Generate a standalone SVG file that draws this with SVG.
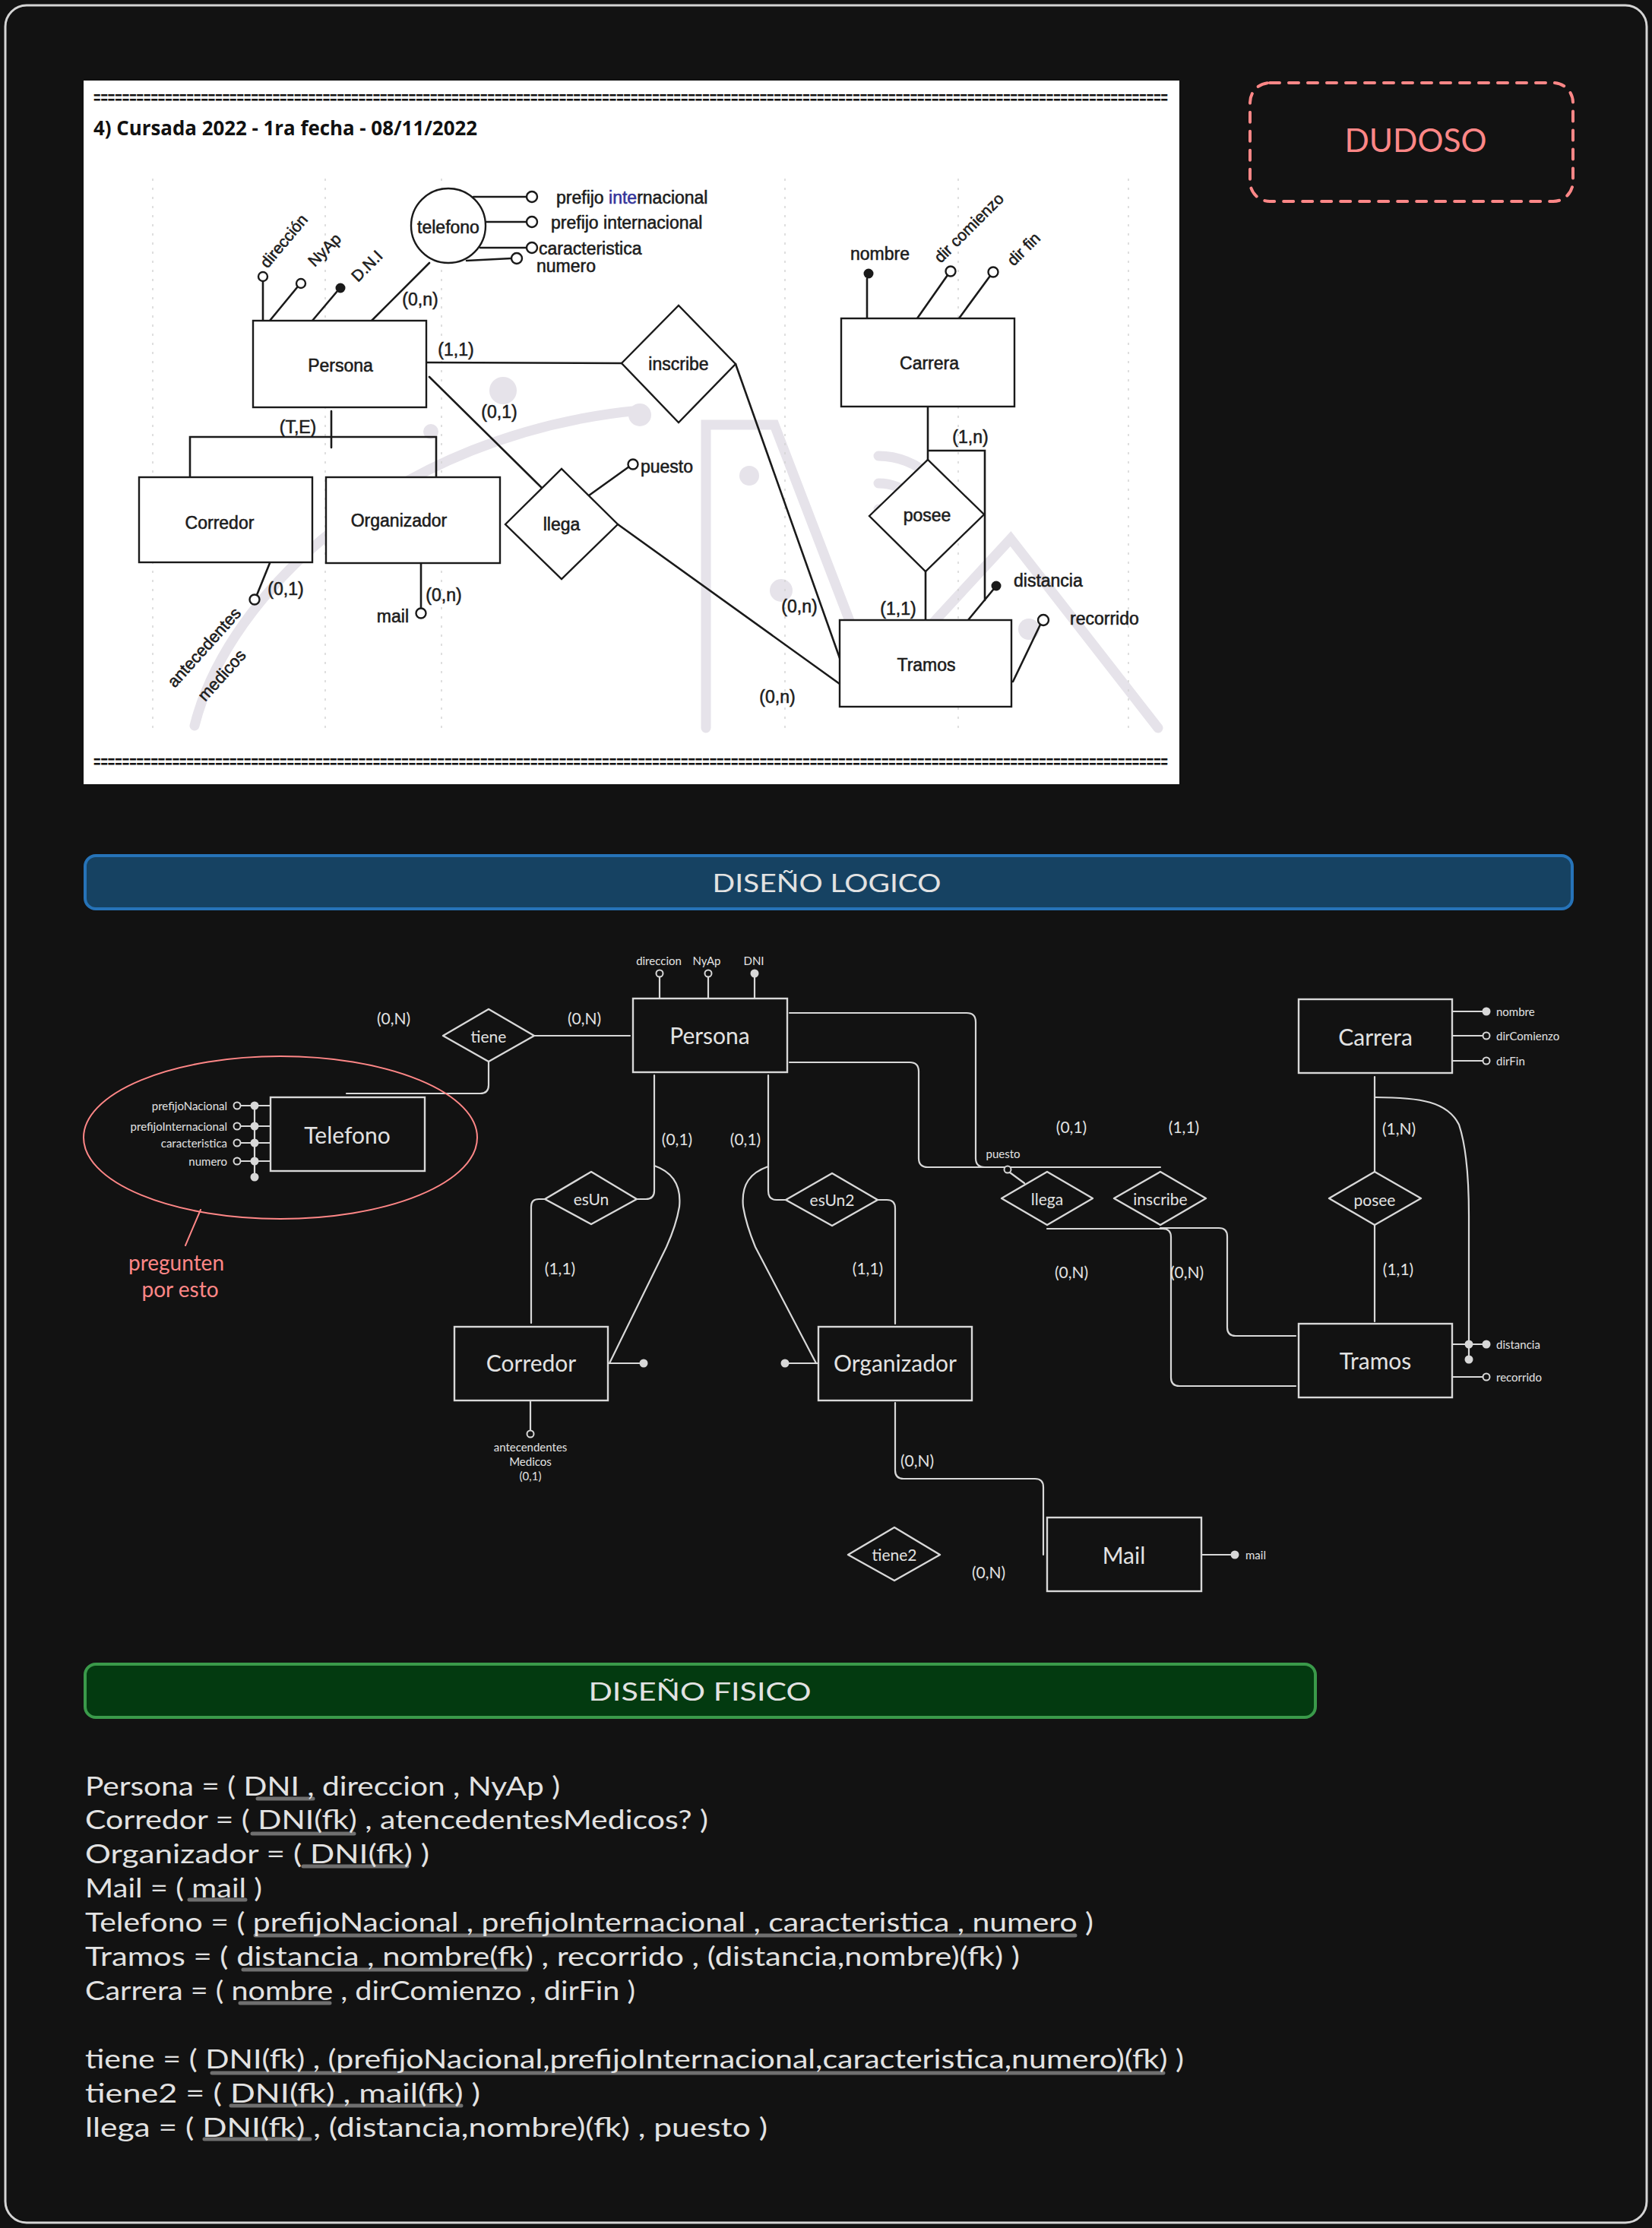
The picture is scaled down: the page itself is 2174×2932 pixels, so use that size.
<svg xmlns="http://www.w3.org/2000/svg" width="2174" height="2932" viewBox="0 0 2174 2932">
  <style>
    .st{font-family:"Liberation Sans",Arial,sans-serif;fill:#1c1c1c;font-size:23px;stroke:#1c1c1c;stroke-width:0.55}
    .sl{fill:none;stroke:#1a1a1a;stroke-width:2.6;stroke-linecap:round}
    .sc{fill:#fff;stroke:#1a1a1a;stroke-width:2.4}
    .sf{fill:#1a1a1a}
    .wm{fill:none;stroke:#e6e3ea;stroke-width:13;stroke-linecap:round}
    .wd{fill:#e6e3ea}
    .grid{fill:none;stroke:#d2d2d2;stroke-width:1.4;stroke-dasharray:3 9}
    .hw{font-family:"Lato","Noto Sans",sans-serif;fill:#e2e2e2}
    .ent{fill:none;stroke:#d8d8d8;stroke-width:2.4}
    .dia{fill:none;stroke:#d8d8d8;stroke-width:2.4;stroke-linejoin:round}
    .ln{fill:none;stroke:#d8d8d8;stroke-width:2.2;stroke-linecap:round}
    .oc{fill:#121212;stroke:#d8d8d8;stroke-width:2}
    .fc{fill:#d8d8d8}
    .lbl{font-size:30px;text-anchor:middle;dominant-baseline:central}
    .rel{font-size:21px;text-anchor:middle;dominant-baseline:central}
    .card{font-size:21px;text-anchor:middle;dominant-baseline:central}
    .att{font-size:15px;dominant-baseline:central}
    .phys{font-size:34px}
    .ul{fill:none;stroke:#6f6f6f;stroke-width:5;stroke-linecap:round}
    .red{fill:#ff8787;font-family:"Lato","Noto Sans",sans-serif}
  </style>

  <!-- canvas and outer frame -->
  <rect x="0" y="0" width="2174" height="2932" fill="#121212"/>
  <rect x="7" y="7" width="2160" height="2918" rx="28" fill="none" stroke="#d4d4d4" stroke-width="3"/>

  <!-- scanned exercise sheet -->
  <g id="scan">
    <rect x="110" y="106" width="1442" height="926" fill="#ffffff"/>
    <!-- faint watermark -->
    <g id="watermark">
      <path class="wm" d="M256 955 C300 780 520 570 842 540"/>
      <path class="wm" d="M929 958 V559 H1019 L1151 903 L1330 709 L1524 958"/>
      <path class="wm" d="M1156 600 A100 100 0 0 1 1256 700"/>
      <path class="wm" d="M1156 636 A64 64 0 0 1 1220 700"/>
      <path class="wm" d="M1156 670 A30 30 0 0 1 1186 700"/>
      <circle class="wd" cx="662" cy="514" r="18"/>
      <circle class="wd" cx="567" cy="568" r="10"/>
      <circle class="wd" cx="842" cy="546" r="15"/>
      <circle class="wd" cx="986" cy="626" r="13"/>
      <circle class="wd" cx="1028" cy="777" r="15"/>
      <circle class="wd" cx="1273" cy="891" r="13"/>
      <circle class="wd" cx="1354" cy="828" r="14"/>
    </g>
    <!-- dotted guide lines of the scanned page -->
    <path class="grid" d="M201 235 V960 M428 235 V960 M581 235 V960 M1033 235 V960 M1261 235 V960 M1485 235 V960"/>

    <text x="123" y="136" font-family="'Liberation Sans',Arial,sans-serif" font-weight="bold" font-size="22" fill="#111" textLength="1414" lengthAdjust="spacingAndGlyphs">======================================================================================================================================================</text>
    <text x="123" y="1010" font-family="'Liberation Sans',Arial,sans-serif" font-weight="bold" font-size="22" fill="#111" textLength="1414" lengthAdjust="spacingAndGlyphs">======================================================================================================================================================</text>
    <text x="123" y="178" font-family="'Open Sans','Liberation Sans',sans-serif" font-weight="bold" font-size="27" fill="#111" textLength="505" lengthAdjust="spacingAndGlyphs">4) Cursada 2022 - 1ra fecha - 08/11/2022</text>

    <!-- scanned ER drawing: lines -->
    <path class="sl" d="M346 422 V370 M355 422 L392 377 M411 422 L444 383 M489 422 L565 346"/>
    <path class="sl" d="M623 259 H693 M640 292 H693 M632 326 L693 326 M614 343 L673 340"/>
    <path class="sl" d="M561 477 L818 478 M565 496 L713 642"/>
    <path class="sl" d="M436 541 V589 M250 628 V575 H574 V628"/>
    <path class="sl" d="M355 741 L338 783 M554 741 V801"/>
    <path class="sl" d="M775 652 L828 614 M813 690 L1105 900 M968 479 L1105 866"/>
    <path class="sl" d="M1141 419 V367 M1207 419 L1247 362 M1262 419 L1303 363"/>
    <path class="sl" d="M1221 535 V605 M1221 593 H1296 V790 M1218 752 V816 M1274 816 L1307 776 M1333 897 L1369 822"/>
    <!-- shapes -->
    <rect class="sc" x="333" y="422" width="228" height="114"/>
    <rect class="sc" x="183" y="628" width="228" height="112"/>
    <rect class="sc" x="429" y="628" width="229" height="113"/>
    <rect class="sc" x="1107" y="419" width="228" height="116"/>
    <rect class="sc" x="1105" y="816" width="226" height="114"/>
    <ellipse class="sc" cx="590" cy="297" rx="49" ry="49"/>
    <polygon class="sc" points="818,478 893,402 968,479 893,556"/>
    <polygon class="sc" points="665,690 739,617 813,690 739,762"/>
    <polygon class="sc" points="1144,679 1221,605 1295,677 1218,752"/>
    <!-- attribute marks -->
    <circle class="sc" cx="346" cy="364" r="6"/>
    <circle class="sc" cx="396" cy="373" r="6"/>
    <circle class="sf" cx="448" cy="379" r="6.5"/>
    <circle class="sc" cx="700" cy="259" r="7"/>
    <circle class="sc" cx="700" cy="292" r="7"/>
    <circle class="sc" cx="700" cy="326" r="7"/>
    <circle class="sc" cx="680" cy="340" r="7"/>
    <circle class="sc" cx="335" cy="789" r="6.5"/>
    <circle class="sc" cx="554" cy="807" r="6.5"/>
    <circle class="sc" cx="833" cy="611" r="6.5"/>
    <circle class="sf" cx="1143" cy="360" r="6.5"/>
    <circle class="sc" cx="1251" cy="357" r="6.5"/>
    <circle class="sc" cx="1307" cy="358" r="6.5"/>
    <circle class="sf" cx="1311" cy="771" r="6.5"/>
    <circle class="sc" cx="1373" cy="816" r="7"/>
    <!-- texts -->
    <g class="st">
      <text x="590" y="299" text-anchor="middle" dominant-baseline="central">telefono</text>
      <text x="448" y="481" text-anchor="middle" dominant-baseline="central">Persona</text>
      <text x="289" y="688" text-anchor="middle" dominant-baseline="central">Corredor</text>
      <text x="525" y="685" text-anchor="middle" dominant-baseline="central">Organizador</text>
      <text x="739" y="690" text-anchor="middle" dominant-baseline="central">llega</text>
      <text x="893" y="479" text-anchor="middle" dominant-baseline="central">inscribe</text>
      <text x="1223" y="478" text-anchor="middle" dominant-baseline="central">Carrera</text>
      <text x="1220" y="678" text-anchor="middle" dominant-baseline="central">posee</text>
      <text x="1219" y="875" text-anchor="middle" dominant-baseline="central">Tramos</text>
      <text x="553" y="394" text-anchor="middle" dominant-baseline="central">(0,n)</text>
      <text x="600" y="460" text-anchor="middle" dominant-baseline="central">(1,1)</text>
      <text x="657" y="542" text-anchor="middle" dominant-baseline="central">(0,1)</text>
      <text x="392" y="562" text-anchor="middle" dominant-baseline="central">(T,E)</text>
      <text x="376" y="775" text-anchor="middle" dominant-baseline="central">(0,1)</text>
      <text x="584" y="783" text-anchor="middle" dominant-baseline="central">(0,n)</text>
      <text x="1052" y="798" text-anchor="middle" dominant-baseline="central">(0,n)</text>
      <text x="1023" y="917" text-anchor="middle" dominant-baseline="central">(0,n)</text>
      <text x="1182" y="801" text-anchor="middle" dominant-baseline="central">(1,1)</text>
      <text x="1277" y="575" text-anchor="middle" dominant-baseline="central">(1,n)</text>
      <text x="538" y="811" text-anchor="end" dominant-baseline="central">mail</text>
      <text x="843" y="614" dominant-baseline="central">puesto</text>
      <text x="732" y="260" dominant-baseline="central">prefijo <tspan fill="#34349a" stroke="#34349a">inte</tspan>rnacional</text>
      <text x="725" y="293" dominant-baseline="central">prefijo internacional</text>
      <text x="709" y="327" dominant-baseline="central">caracteristica</text>
      <text x="706" y="350" dominant-baseline="central">numero</text>
      <text x="1158" y="334" text-anchor="middle" dominant-baseline="central">nombre</text>
      <text x="1334" y="764" dominant-baseline="central">distancia</text>
      <text x="1408" y="814" dominant-baseline="central">recorrido</text>
      <text transform="translate(352,354) rotate(-50)" font-size="21">dirección</text>
      <text transform="translate(414,352) rotate(-45)" font-size="21">NyAp</text>
      <text transform="translate(471,372) rotate(-45)" font-size="21">D.N.I</text>
      <text transform="translate(230,906) rotate(-48)" font-size="22">antecedentes</text>
      <text transform="translate(270,924) rotate(-48)" font-size="22">medicos</text>
      <text transform="translate(1238,347) rotate(-45)" font-size="21">dir comienzo</text>
      <text transform="translate(1334,351) rotate(-45)" font-size="21">dir fin</text>
    </g>
  </g>

  <!-- doubt marker -->
  <g id="dudoso">
    <rect x="1645" y="109" width="425" height="156" rx="26" fill="none" stroke="#ff8787" stroke-width="4" stroke-dasharray="13 12" stroke-linecap="round"/>
    <text x="1863" y="184" class="red" font-size="42" text-anchor="middle" dominant-baseline="central" textLength="187" lengthAdjust="spacingAndGlyphs">DUDOSO</text>
  </g>

  <!-- section headers -->
  <g id="header-logico">
    <rect x="112" y="1126" width="1957" height="70" rx="14" fill="#164262" stroke="#2673b8" stroke-width="4"/>
    <text x="1088" y="1161" class="hw" font-size="32" text-anchor="middle" dominant-baseline="central" textLength="301" lengthAdjust="spacingAndGlyphs">DISEÑO LOGICO</text>
  </g>
  <g id="header-fisico">
    <rect x="112" y="2190" width="1619" height="70" rx="14" fill="#033a10" stroke="#3a9a4a" stroke-width="4"/>
    <text x="921" y="2225" class="hw" font-size="32" text-anchor="middle" dominant-baseline="central" textLength="293" lengthAdjust="spacingAndGlyphs">DISEÑO FISICO</text>
  </g>

  <!-- logical model: connectors -->
  <g id="connectors">
    <path class="ln" d="M703 1363 H829"/>
    <path class="ln" d="M643 1397 V1428 Q643 1439 632 1439 H456"/>
    <path class="ln" d="M868 1314 V1286 M932 1314 V1286 M993 1314 V1286"/>
    <path class="ln" d="M861 1415 V1567 Q861 1578 850 1578 H838"/>
    <path class="ln" d="M717 1578 H709 Q699 1578 699 1588 V1741"/>
    <path class="ln" d="M861 1534 C884 1542 897 1558 894 1588 Q890 1612 877 1641 L802 1794"/>
    <path class="ln" d="M800 1794 H845"/>
    <path class="ln" d="M698 1843 V1883"/>
    <path class="ln" d="M1011 1415 V1567 Q1011 1579 1022 1579 H1034"/>
    <path class="ln" d="M1155 1579 H1167 Q1178 1579 1178 1590 V1742"/>
    <path class="ln" d="M1011 1535 C988 1543 975 1558 978 1588 Q982 1612 994 1641 L1074 1794"/>
    <path class="ln" d="M1077 1794 H1035"/>
    <path class="ln" d="M1178 1846 V1935 Q1178 1946 1189 1946 H1362 Q1373 1946 1373 1957 V2046"/>
    <path class="ln" d="M1581 2046 H1621"/>
    <path class="ln" d="M1039 1333 H1272 Q1284 1333 1284 1345 V1524 Q1284 1536 1296 1536 H1378"/>
    <path class="ln" d="M1039 1398 H1197 Q1209 1398 1209 1410 V1524 Q1209 1536 1221 1536 H1527"/>
    <path class="ln" d="M1348 1557 L1329 1543"/>
    <path class="ln" d="M1378 1617 H1530 Q1541 1617 1541 1628 V1813 Q1541 1824 1552 1824 H1705"/>
    <path class="ln" d="M1527 1616 H1604 Q1615 1616 1615 1627 V1747 Q1615 1758 1626 1758 H1705"/>
    <path class="ln" d="M1809 1417 V1542 M1809 1612 V1739"/>
    <path class="ln" d="M1809 1444 C1870 1444 1905 1450 1920 1480 C1930 1510 1933 1550 1933 1600 V1789"/>
    <path class="ln" d="M1911 1331 H1952 M1911 1363 H1951 M1911 1396 H1951"/>
    <path class="ln" d="M1911 1769 H1952 M1911 1812 H1951"/>
    <path class="ln" d="M335 1455 V1549 M316 1455 H356 M316 1482 H356 M316 1504 H356 M316 1528 H356"/>
    <!-- attribute markers -->
    <circle class="oc" cx="868" cy="1281" r="4.5"/>
    <circle class="oc" cx="932" cy="1281" r="4.5"/>
    <circle class="fc" cx="993" cy="1281" r="5.5"/>
    <circle class="fc" cx="847" cy="1794" r="5.5"/>
    <circle class="oc" cx="698" cy="1887" r="4.5"/>
    <circle class="fc" cx="1033" cy="1794" r="5.5"/>
    <circle class="fc" cx="1625" cy="2046" r="5.5"/>
    <circle class="oc" cx="1326" cy="1539" r="4.5"/>
    <circle class="fc" cx="1956" cy="1331" r="5.5"/>
    <circle class="oc" cx="1956" cy="1363" r="4.5"/>
    <circle class="oc" cx="1956" cy="1396" r="4.5"/>
    <circle class="fc" cx="1933" cy="1769" r="5.5"/>
    <circle class="fc" cx="1933" cy="1789" r="5.5"/>
    <circle class="fc" cx="1956" cy="1769" r="5.5"/>
    <circle class="oc" cx="1956" cy="1812" r="4.5"/>
    <circle class="fc" cx="335" cy="1455" r="5.5"/>
    <circle class="fc" cx="335" cy="1482" r="5.5"/>
    <circle class="fc" cx="335" cy="1504" r="5.5"/>
    <circle class="fc" cx="335" cy="1528" r="5.5"/>
    <circle class="fc" cx="335" cy="1549" r="5.5"/>
    <circle class="oc" cx="312" cy="1455" r="4.5"/>
    <circle class="oc" cx="312" cy="1482" r="4.5"/>
    <circle class="oc" cx="312" cy="1504" r="4.5"/>
    <circle class="oc" cx="312" cy="1528" r="4.5"/>
    <!-- cardinalities -->
    <g class="hw card">
      <text x="518" y="1339">(0,N)</text>
      <text x="769" y="1339">(0,N)</text>
      <text x="891" y="1498">(0,1)</text>
      <text x="981" y="1498">(0,1)</text>
      <text x="737" y="1668">(1,1)</text>
      <text x="1142" y="1668">(1,1)</text>
      <text x="1207" y="1921">(0,N)</text>
      <text x="1301" y="2068">(0,N)</text>
      <text x="1410" y="1482">(0,1)</text>
      <text x="1558" y="1482">(1,1)</text>
      <text x="1410" y="1673">(0,N)</text>
      <text x="1562" y="1673">(0,N)</text>
      <text x="1841" y="1484">(1,N)</text>
      <text x="1840" y="1669">(1,1)</text>
    </g>
  </g>

  <!-- logical model: entities -->
  <g id="persona">
    <rect class="ent" x="833" y="1314" width="203" height="97"/>
    <text class="hw lbl" x="934" y="1362">Persona</text>
    <text class="hw att" x="867" y="1264" text-anchor="middle">direccion</text>
    <text class="hw att" x="930" y="1264" text-anchor="middle">NyAp</text>
    <text class="hw att" x="992" y="1264" text-anchor="middle">DNI</text>
  </g>
  <g id="telefono">
    <rect class="ent" x="356" y="1444" width="203" height="97"/>
    <text class="hw lbl" x="457" y="1493">Telefono</text>
    <text class="hw att" x="299" y="1455" text-anchor="end">prefijoNacional</text>
    <text class="hw att" x="299" y="1482" text-anchor="end">prefijoInternacional</text>
    <text class="hw att" x="299" y="1504" text-anchor="end">caracteristica</text>
    <text class="hw att" x="299" y="1528" text-anchor="end">numero</text>
  </g>
  <g id="corredor">
    <rect class="ent" x="598" y="1746" width="202" height="97"/>
    <text class="hw lbl" x="699" y="1793">Corredor</text>
    <text class="hw att" x="698" y="1904" text-anchor="middle">antecendentes</text>
    <text class="hw att" x="698" y="1923" text-anchor="middle">Medicos</text>
    <text class="hw att" x="698" y="1942" text-anchor="middle">(0,1)</text>
  </g>
  <g id="organizador">
    <rect class="ent" x="1077" y="1746" width="202" height="97"/>
    <text class="hw lbl" x="1178" y="1793">Organizador</text>
  </g>
  <g id="carrera">
    <rect class="ent" x="1709" y="1315" width="202" height="97"/>
    <text class="hw lbl" x="1810" y="1364">Carrera</text>
    <text class="hw att" x="1969" y="1331">nombre</text>
    <text class="hw att" x="1969" y="1363">dirComienzo</text>
    <text class="hw att" x="1969" y="1396">dirFin</text>
  </g>
  <g id="tramos">
    <rect class="ent" x="1709" y="1742" width="202" height="97"/>
    <text class="hw lbl" x="1810" y="1790">Tramos</text>
    <text class="hw att" x="1969" y="1769">distancia</text>
    <text class="hw att" x="1969" y="1812">recorrido</text>
  </g>
  <g id="mail">
    <rect class="ent" x="1378" y="1997" width="203" height="97"/>
    <text class="hw lbl" x="1479" y="2046">Mail</text>
    <text class="hw att" x="1639" y="2046">mail</text>
  </g>

  <!-- logical model: relationships -->
  <g id="tiene">
    <polygon class="dia" points="583,1363 643,1328 703,1363 643,1397"/>
    <text class="hw rel" x="643" y="1363">tiene</text>
  </g>
  <g id="esUn">
    <polygon class="dia" points="717,1578 778,1542 838,1578 778,1611"/>
    <text class="hw rel" x="778" y="1577">esUn</text>
  </g>
  <g id="esUn2">
    <polygon class="dia" points="1034,1579 1095,1544 1155,1579 1095,1613"/>
    <text class="hw rel" x="1095" y="1578">esUn2</text>
  </g>
  <g id="llega">
    <polygon class="dia" points="1318,1577 1378,1542 1438,1577 1378,1612"/>
    <text class="hw rel" x="1378" y="1577">llega</text>
    <text class="hw att" x="1320" y="1518" text-anchor="middle">puesto</text>
  </g>
  <g id="inscribe">
    <polygon class="dia" points="1466,1577 1527,1542 1587,1577 1527,1612"/>
    <text class="hw rel" x="1527" y="1577">inscribe</text>
  </g>
  <g id="posee">
    <polygon class="dia" points="1749,1577 1809,1542 1870,1577 1809,1612"/>
    <text class="hw rel" x="1809" y="1578">posee</text>
  </g>
  <g id="tiene2">
    <polygon class="dia" points="1116,2046 1177,2010 1237,2046 1177,2080"/>
    <text class="hw rel" x="1177" y="2045">tiene2</text>
  </g>

  <!-- note on the phone entity -->
  <g id="nota">
    <ellipse cx="369" cy="1497" rx="259" ry="107" fill="none" stroke="#ff8787" stroke-width="2"/>
    <path d="M264 1592 L244 1639" fill="none" stroke="#ff8787" stroke-width="2" stroke-linecap="round"/>
    <text class="red" x="232" y="1661" font-size="28" text-anchor="middle" dominant-baseline="central">pregunten</text>
    <text class="red" x="237" y="1696" font-size="28" text-anchor="middle" dominant-baseline="central">por esto</text>
  </g>

  <!-- physical model -->
  <g id="fisico">
    <path class="ul" d="M339 2367 H412 M332 2413 H466 M399 2456 H536 M249 2500 H323 M336 2547 H1415 M320 2592 H693 M316 2636 H434 M279 2728 H1531 M304 2771 H607 M269 2815 H408"/>
    <g class="hw phys">
      <text x="112" y="2363" textLength="625" lengthAdjust="spacingAndGlyphs">Persona = ( DNI , direccion , NyAp )</text>
      <text x="112" y="2407" textLength="820" lengthAdjust="spacingAndGlyphs">Corredor = ( DNI(fk) , atencedentesMedicos? )</text>
      <text x="112" y="2452" textLength="453" lengthAdjust="spacingAndGlyphs">Organizador = ( DNI(fk) )</text>
      <text x="112" y="2497" textLength="233" lengthAdjust="spacingAndGlyphs">Mail = ( mail )</text>
      <text x="112" y="2542" textLength="1327" lengthAdjust="spacingAndGlyphs">Telefono = ( prefijoNacional , prefijoInternacional , caracteristica , numero )</text>
      <text x="112" y="2587" textLength="1230" lengthAdjust="spacingAndGlyphs">Tramos = ( distancia , nombre(fk) , recorrido , (distancia,nombre)(fk) )</text>
      <text x="112" y="2632" textLength="724" lengthAdjust="spacingAndGlyphs">Carrera = ( nombre , dirComienzo , dirFin )</text>
      <text x="112" y="2722" textLength="1446" lengthAdjust="spacingAndGlyphs">tiene = ( DNI(fk) , (prefijoNacional,prefijoInternacional,caracteristica,numero)(fk) )</text>
      <text x="112" y="2767" textLength="520" lengthAdjust="spacingAndGlyphs">tiene2 = ( DNI(fk) , mail(fk) )</text>
      <text x="112" y="2812" textLength="898" lengthAdjust="spacingAndGlyphs">llega = ( DNI(fk) , (distancia,nombre)(fk) , puesto )</text>
    </g>
  </g>
</svg>
